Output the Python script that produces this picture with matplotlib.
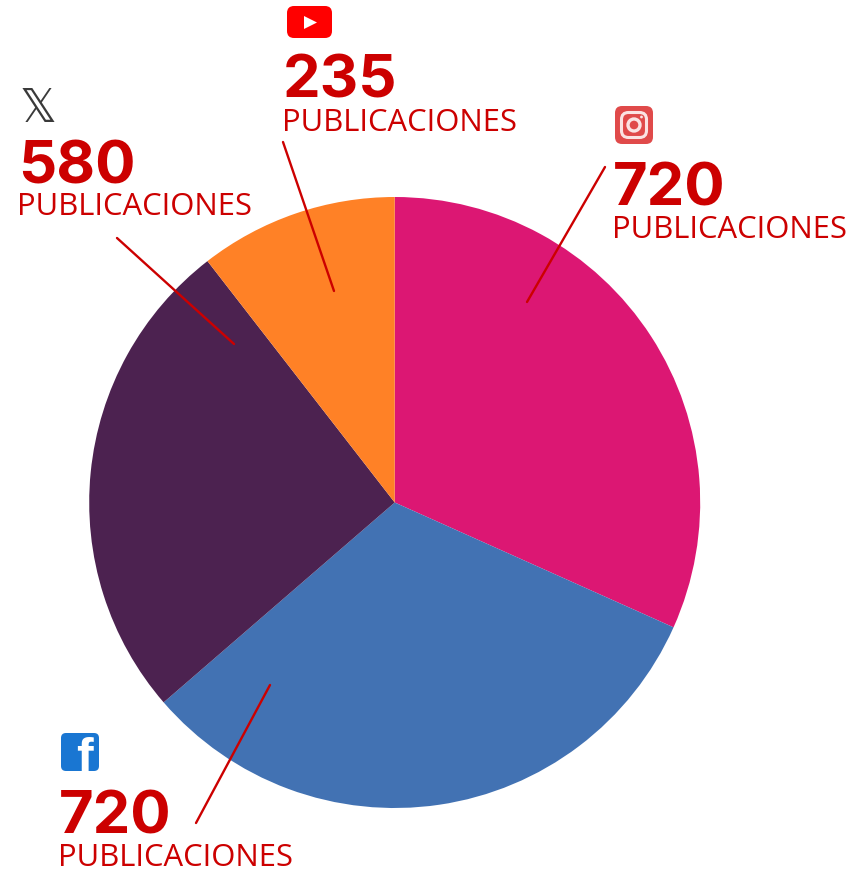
import matplotlib
matplotlib.use("Agg")
import matplotlib.pyplot as plt
from matplotlib.patches import FancyBboxPatch, Polygon, Circle

W, H = 866, 870
platforms = ["Instagram", "Facebook", "X", "YouTube"]
values = [720, 720, 580, 235]
shares = [31.7, 31.95, 25.85, 10.5]
colors = ["#DC1773", "#4272B3", "#4C2250", "#FF8126"]
label_word = "PUBLICACIONES"
RED = "#CC0000"
FONT = "Open Sans"
NUM_FONT = "Inter"

fig = plt.figure(figsize=(W / 100, H / 100), dpi=100)
ax = fig.add_axes([0, 0, 1, 1])

ax.pie(shares, colors=colors, startangle=-90, counterclock=True,
       center=(394.7, 503.5), radius=305.5, frame=True, normalize=True,
       wedgeprops=dict(linewidth=0))
ax.set_xlim(0, W)
ax.set_ylim(H, 0)
ax.set_aspect("equal")
ax.axis("off")

leaders = [((605, 168), (527, 303)), ((196, 824), (270, 686)),
           ((117, 239), (234, 345)), ((283, 143), (334, 292))]
for (a, b) in leaders:
    ax.plot([a[0], b[0]], [a[1], b[1]], color=RED, lw=1.7, solid_capstyle="round", zorder=5)

labels = [(613, 206, 238), (59, 834, 866), (18, 184, 215), (283, 98, 131)]
for v, (x, y1, y2) in zip(values, labels):
    ax.text(x, y1, str(v), color=RED, fontsize=43, fontweight="bold", family=NUM_FONT,
            ha="left", va="baseline", zorder=6)
    ax.text(x - 1, y2, label_word, color=RED, fontsize=22.3, family=FONT,
            ha="left", va="baseline", zorder=6)

def rbox(x, y, w, h, r, color):
    p = FancyBboxPatch((x + r, y + r), w - 2 * r, h - 2 * r,
                       boxstyle=f"round,pad={r},rounding_size={r}",
                       fc=color, ec="none", zorder=7)
    ax.add_patch(p)
    return p

# YouTube icon
rbox(287, 7, 45, 32, 7, "#FF0000")
ax.add_patch(Polygon([(304, 17), (304, 30), (317, 23.5)], fc="white", ec="none", zorder=8))

# Instagram icon
rbox(615, 107, 38, 38, 7, "#E04A4A")
ax.add_patch(FancyBboxPatch((624, 116), 20, 20, boxstyle="round,pad=2.5,rounding_size=7",
                            fc="none", ec="#FBE3E3", lw=2.2, zorder=8))
ax.add_patch(Circle((634, 126), 6, fc="none", ec="#FBE3E3", lw=2.4, zorder=8))
ax.add_patch(Circle((641.5, 118), 1.4, fc="#FBE3E3", ec="none", zorder=8))

# X icon
ax.text(38.5, 110, "\U0001D54F", family="DejaVu Sans", fontsize=33, color="#3a3a3a",
        ha="center", va="center", zorder=8)

# Facebook icon
fb = rbox(61, 734, 38, 38, 5, "#1976D2")
t = ax.text(84, 773, "f", family="Liberation Sans", fontweight="bold", fontsize=36, color="white",
            ha="center", va="baseline", zorder=8)
t.set_clip_path(fb)

fig.savefig("out.png", dpi=100, facecolor="white")
